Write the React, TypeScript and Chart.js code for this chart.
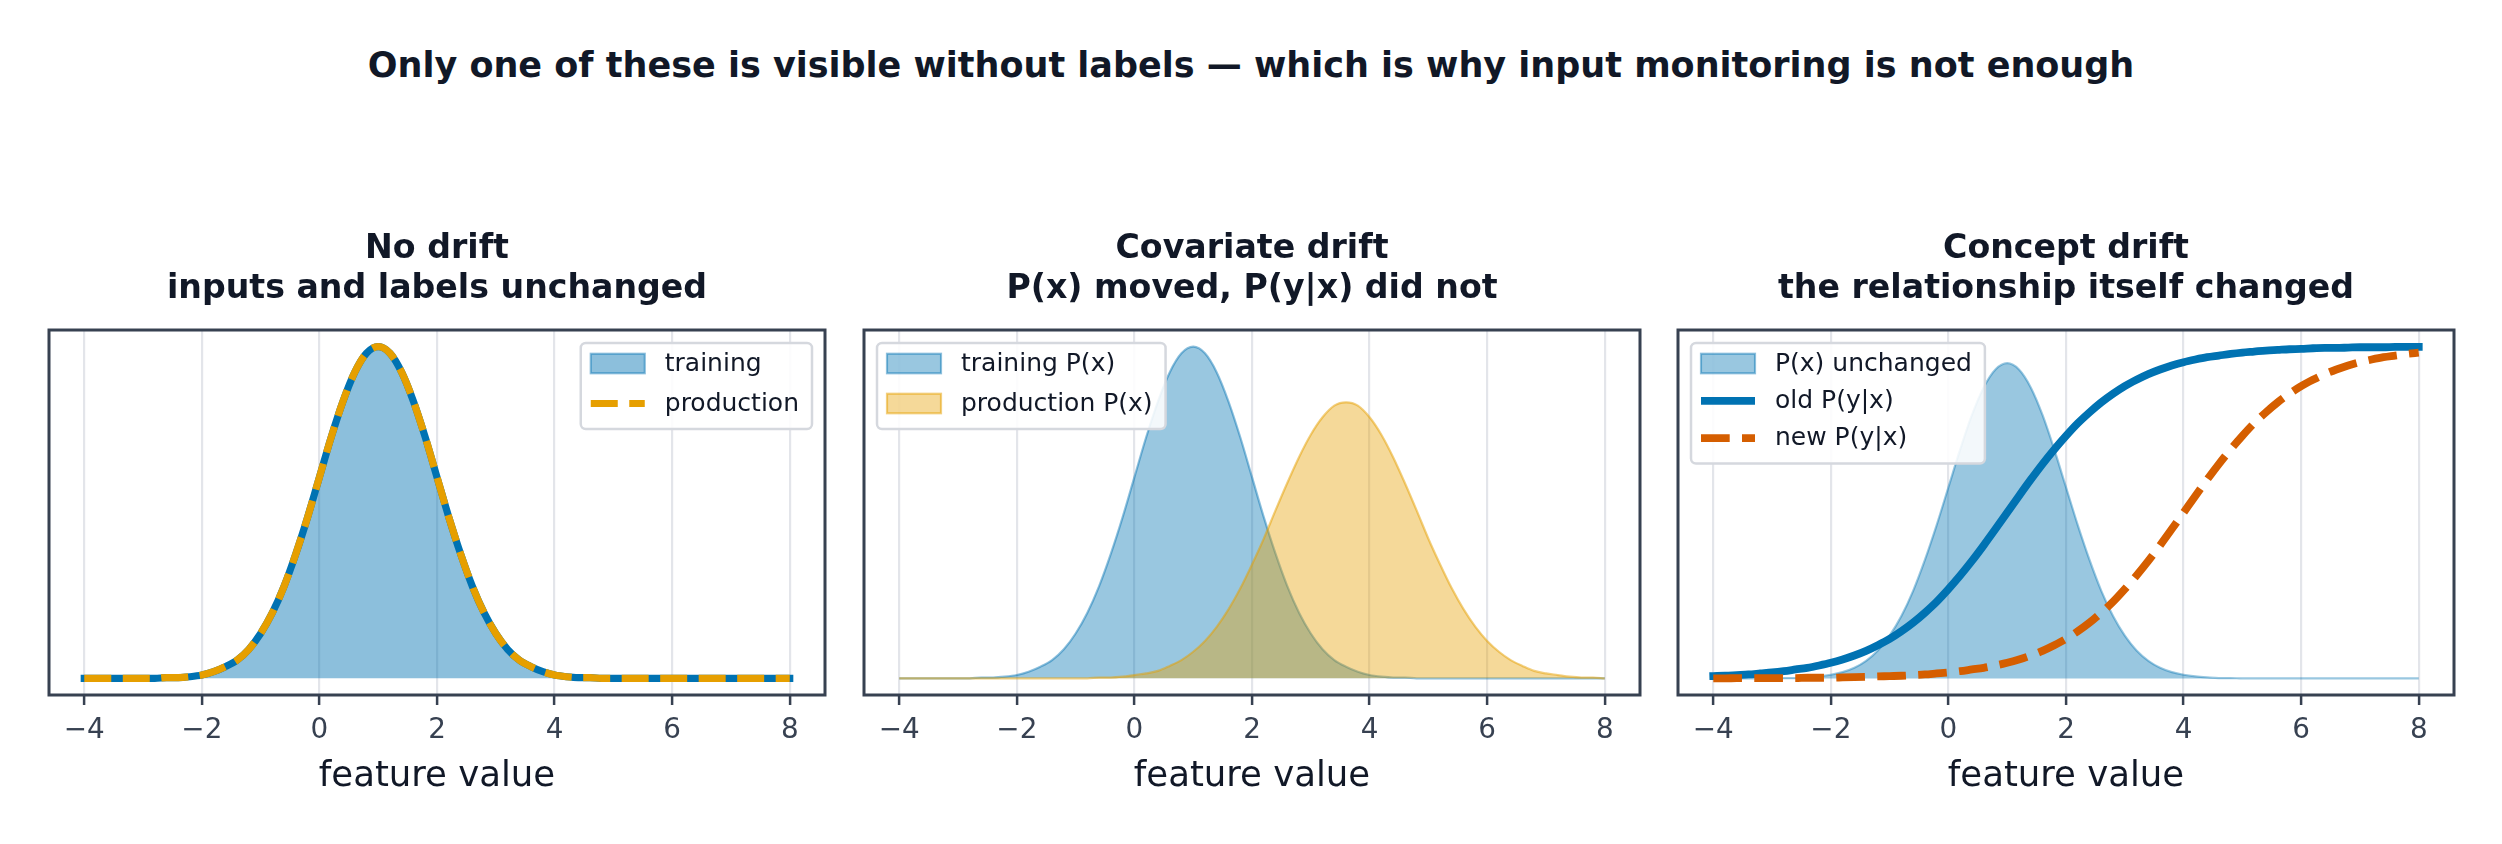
import { useEffect, useRef } from 'react';
import { Chart, registerables } from 'chart.js';

Chart.register(...registerables);

const FONT = "'DejaVu Sans', sans-serif";
const INK = '#111827';
const AXIS = '#374151';

const suptitle = 'Only one of these is visible without labels — which is why input monitoring is not enough';

// sample positions along the feature axis (shared by every curve)
const featureX = [
  -4, -3.8, -3.6, -3.4, -3.2, -3, -2.8, -2.6, -2.4, -2.2,
  -2, -1.8, -1.6, -1.4, -1.2, -1, -0.8, -0.6, -0.4, -0.2,
  0, 0.2, 0.4, 0.6, 0.8, 1, 1.2, 1.4, 1.6, 1.8,
  2, 2.2, 2.4, 2.6, 2.8, 3, 3.2, 3.4, 3.6, 3.8,
  4, 4.2, 4.4, 4.6, 4.8, 5, 5.2, 5.4, 5.6, 5.8,
  6, 6.2, 6.4, 6.6, 6.8, 7, 7.2, 7.4, 7.6, 7.8, 8,
];

const xTicks = [-4, -2, 0, 2, 4, 6, 8];

// training density P(x) (panels 1 and 2)
const trainingPx = [
  0, 0, 0, 0, 0, 0, 0, 0.001, 0.001, 0.002,
  0.004, 0.008, 0.014, 0.022, 0.035, 0.054, 0.079, 0.111, 0.15, 0.194,
  0.242, 0.29, 0.333, 0.368, 0.391, 0.399, 0.391, 0.368, 0.333, 0.29,
  0.242, 0.194, 0.15, 0.111, 0.079, 0.054, 0.035, 0.022, 0.014, 0.008,
  0.004, 0.002, 0.001, 0.001, 0, 0, 0, 0, 0, 0,
  0, 0, 0, 0, 0, 0, 0, 0, 0, 0, 0,
];

// no drift: production lies exactly on top of training
const productionSame = trainingPx;

// covariate drift: production density shifted right and wider
const productionShifted = [
  0, 0, 0, 0, 0, 0, 0, 0, 0, 0,
  0, 0, 0, 0, 0, 0, 0, 0.001, 0.001, 0.002,
  0.004, 0.006, 0.009, 0.015, 0.022, 0.032, 0.045, 0.062, 0.083, 0.108,
  0.137, 0.168, 0.202, 0.235, 0.266, 0.293, 0.314, 0.328, 0.332, 0.328,
  0.314, 0.293, 0.266, 0.235, 0.202, 0.168, 0.137, 0.108, 0.083, 0.062,
  0.045, 0.032, 0.022, 0.015, 0.009, 0.006, 0.004, 0.002, 0.001, 0.001, 0,
];

// concept drift: P(x) drawn on the probability scale
const unchangedPx = [
  0, 0, 0, 0, 0, 0, 0.001, 0.001, 0.003, 0.006,
  0.011, 0.019, 0.032, 0.053, 0.084, 0.129, 0.188, 0.264, 0.357, 0.462,
  0.576, 0.69, 0.794, 0.877, 0.931, 0.95, 0.931, 0.877, 0.794, 0.69,
  0.576, 0.462, 0.357, 0.264, 0.188, 0.129, 0.084, 0.053, 0.032, 0.019,
  0.011, 0.006, 0.003, 0.001, 0.001, 0, 0, 0, 0, 0,
  0, 0, 0, 0, 0, 0, 0, 0, 0, 0, 0,
];

const oldPyx = [
  0.007, 0.008, 0.01, 0.012, 0.015, 0.018, 0.022, 0.027, 0.032, 0.039,
  0.047, 0.057, 0.069, 0.083, 0.1, 0.119, 0.142, 0.168, 0.198, 0.231,
  0.269, 0.31, 0.354, 0.401, 0.45, 0.5, 0.55, 0.599, 0.646, 0.69,
  0.731, 0.769, 0.802, 0.832, 0.858, 0.881, 0.9, 0.917, 0.931, 0.943,
  0.953, 0.961, 0.968, 0.973, 0.978, 0.982, 0.985, 0.988, 0.99, 0.992,
  0.993, 0.995, 0.996, 0.996, 0.997, 0.998, 0.998, 0.998, 0.999, 0.999, 0.999,
];

const newPyx = [
  0, 0, 0.001, 0.001, 0.001, 0.001, 0.001, 0.001, 0.002, 0.002,
  0.002, 0.003, 0.004, 0.005, 0.006, 0.007, 0.008, 0.01, 0.012, 0.015,
  0.018, 0.022, 0.027, 0.032, 0.039, 0.047, 0.057, 0.069, 0.083, 0.1,
  0.119, 0.142, 0.168, 0.198, 0.231, 0.269, 0.31, 0.354, 0.401, 0.45,
  0.5, 0.55, 0.599, 0.646, 0.69, 0.731, 0.769, 0.802, 0.832, 0.858,
  0.881, 0.9, 0.917, 0.931, 0.943, 0.953, 0.961, 0.968, 0.973, 0.978, 0.982,
];

const pts = (ys: number[]) => featureX.map((x, i) => ({ x, y: ys[i] }));

const BLUE = '#0072B2';
const ORANGE = '#E69F00';
const VERMILION = '#D55E00';

type LegendItem = {
  label: string;
  kind: 'patch' | 'line';
  color: string;
  edge?: string;
  width?: number;
  dash?: number[];
};

// axes frame + matplotlib-style legend box drawn inside the plot area
const frameLegend = {
  id: 'frameLegend',
  afterDatasetsDraw(chart: any, _args: any, opts: any) {
    const { ctx, chartArea: a } = chart;
    ctx.save();
    ctx.strokeStyle = AXIS;
    ctx.lineWidth = 3;
    ctx.strokeRect(a.left, a.top, a.right - a.left, a.bottom - a.top);

    const items: LegendItem[] = opts.items || [];
    if (items.length) {
      ctx.font = `25px ${FONT}`;
      const textW = Math.max(...items.map((it) => ctx.measureText(it.label).width));
      const w = 10 + 74 + textW + 13;
      const h = 20.5 + (items.length - 1) * opts.rowGap + 25.5;
      const x0 = opts.side === 'right' ? a.right - 13 - w : a.left + 13;
      const y0 = a.top + 13;
      ctx.beginPath();
      ctx.roundRect(x0, y0, w, h, 5);
      ctx.fillStyle = 'rgba(255,255,255,0.88)';
      ctx.fill();
      ctx.lineWidth = 2.5;
      ctx.strokeStyle = '#d5d8de';
      ctx.stroke();

      items.forEach((it, i) => {
        const cy = y0 + 20.5 + i * opts.rowGap;
        const px = x0 + 10;
        if (it.kind === 'patch') {
          ctx.fillStyle = it.color;
          ctx.fillRect(px, cy - 9.75, 54, 19.5);
          ctx.strokeStyle = it.edge || it.color;
          ctx.lineWidth = 2.2;
          ctx.strokeRect(px, cy - 9.75, 54, 19.5);
        } else {
          ctx.beginPath();
          ctx.setLineDash(it.dash || []);
          ctx.lineCap = 'butt';
          ctx.strokeStyle = it.color;
          ctx.lineWidth = it.width || 7;
          ctx.moveTo(px, cy);
          ctx.lineTo(px + 54, cy);
          ctx.stroke();
          ctx.setLineDash([]);
        }
        ctx.fillStyle = INK;
        ctx.textBaseline = 'middle';
        ctx.textAlign = 'left';
        ctx.fillText(it.label, px + 74, cy + 0.5);
      });
    }
    ctx.restore();
  },
};

interface PanelProps {
  left: number;
  title: string[];
  datasets: any[];
  yMin: number;
  yMax: number;
  legend: { side: 'left' | 'right'; rowGap: number; items: LegendItem[] };
}

function DriftPanel({ left, title, datasets, yMin, yMax, legend }: PanelProps) {
  const canvasRef = useRef<HTMLCanvasElement>(null);

  useEffect(() => {
    if (!canvasRef.current) return;
    const chart = new Chart(canvasRef.current, {
      type: 'line',
      data: { datasets },
      options: {
        responsive: false,
        animation: false,
        devicePixelRatio: 1,
        layout: { padding: { left: 12, right: 12, top: 0, bottom: 44 } },
        elements: {
          point: { radius: 0 },
          line: { cubicInterpolationMode: 'monotone' },
        },
        plugins: {
          legend: { display: false },
          tooltip: { enabled: false },
          title: {
            display: true,
            text: title,
            color: INK,
            font: { family: FONT, size: 33.2, weight: 'bold', lineHeight: 1.205 },
            padding: { top: 29, bottom: 21 },
          },
          frameLegend: legend,
        } as any,
        scales: {
          x: {
            type: 'linear',
            min: -4.6,
            max: 8.6,
            afterBuildTicks: (scale: any) => {
              scale.ticks = xTicks.map((value) => ({ value }));
            },
            afterFit: (scale: any) => {
              scale.height = 105;
            },
            border: { display: false },
            grid: {
              color: '#e3e5ea',
              lineWidth: 2.2,
              tickColor: AXIS,
              tickWidth: 2.5,
              tickLength: 10,
            },
            ticks: {
              color: AXIS,
              font: { family: FONT, size: 27.8 },
              padding: 9,
              maxRotation: 0,
              autoSkip: false,
              callback: (v: any) => (Number(v) < 0 ? '\u2212' + Math.abs(Number(v)) : String(v)),
            },
            title: {
              display: true,
              text: 'feature value',
              color: INK,
              font: { family: FONT, size: 35.5 },
              padding: { top: 0, bottom: 1.5 },
            },
          },
          y: { display: false, min: yMin, max: yMax },
        },
      },
      plugins: [frameLegend as any],
    });
    return () => chart.destroy();
  }, []);

  return (
    <canvas
      ref={canvasRef}
      width={800}
      height={644}
      style={{ position: 'absolute', left: left - 12, top: 200, width: 800, height: 644 }}
    />
  );
}

export default function App() {
  const noDrift = [
    {
      label: 'production',
      data: pts(productionSame),
      borderColor: ORANGE,
      borderWidth: 7.2,
      borderDash: [27, 11.5],
      borderCapStyle: 'butt',
      fill: false,
      order: 1,
    },
    {
      label: 'training',
      data: pts(trainingPx),
      borderColor: BLUE,
      borderWidth: 7.2,
      borderCapStyle: 'square',
      backgroundColor: 'rgba(0,114,178,0.45)',
      fill: 'origin',
      order: 2,
    },
  ];

  const covariate = [
    {
      label: 'production P(x)',
      data: pts(productionShifted),
      borderColor: 'rgba(230,159,0,0.5)',
      borderWidth: 2.2,
      backgroundColor: 'rgba(230,159,0,0.4)',
      fill: 'origin',
      order: 1,
    },
    {
      label: 'training P(x)',
      data: pts(trainingPx),
      borderColor: 'rgba(0,114,178,0.45)',
      borderWidth: 2.2,
      backgroundColor: 'rgba(0,114,178,0.4)',
      fill: 'origin',
      order: 2,
    },
  ];

  const concept = [
    {
      label: 'new P(y|x)',
      data: pts(newPyx),
      borderColor: VERMILION,
      borderWidth: 7.8,
      borderDash: [28.7, 12.3],
      borderCapStyle: 'butt',
      fill: false,
      order: 1,
    },
    {
      label: 'old P(y|x)',
      data: pts(oldPyx),
      borderColor: BLUE,
      borderWidth: 7.8,
      borderCapStyle: 'square',
      fill: false,
      order: 2,
    },
    {
      label: 'P(x) unchanged',
      data: pts(unchangedPx),
      borderColor: 'rgba(0,114,178,0.4)',
      borderWidth: 2.2,
      backgroundColor: 'rgba(0,114,178,0.4)',
      fill: 'origin',
      order: 3,
    },
  ];

  return (
    <div style={{ position: 'absolute', left: 0, top: 0, width: 2502, height: 844, background: '#fff', overflow: 'hidden' }}>
      <div
        style={{
          position: 'absolute',
          left: 0,
          top: 45,
          width: 2502,
          textAlign: 'center',
          fontFamily: FONT,
          fontWeight: 'bold',
          fontSize: 35,
          lineHeight: '40px',
          color: INK,
          whiteSpace: 'nowrap',
        }}
      >
        {suptitle}
      </div>
      <DriftPanel
        left={49}
        title={['No drift', 'inputs and labels unchanged']}
        datasets={noDrift}
        yMin={-0.02}
        yMax={0.419}
        legend={{
          side: 'right',
          rowGap: 40,
          items: [
            { label: 'training', kind: 'patch', color: 'rgba(0,114,178,0.45)', edge: 'rgba(0,114,178,0.45)' },
            { label: 'production', kind: 'line', color: ORANGE, width: 7.2, dash: [27, 11.5] },
          ],
        }}
      />
      <DriftPanel
        left={864}
        title={['Covariate drift', 'P(x) moved, P(y|x) did not']}
        datasets={covariate}
        yMin={-0.02}
        yMax={0.419}
        legend={{
          side: 'left',
          rowGap: 40,
          items: [
            { label: 'training P(x)', kind: 'patch', color: 'rgba(0,114,178,0.4)', edge: 'rgba(0,114,178,0.45)' },
            { label: 'production P(x)', kind: 'patch', color: 'rgba(230,159,0,0.4)', edge: 'rgba(230,159,0,0.5)' },
          ],
        }}
      />
      <DriftPanel
        left={1678}
        title={['Concept drift', 'the relationship itself changed']}
        datasets={concept}
        yMin={-0.05}
        yMax={1.05}
        legend={{
          side: 'left',
          rowGap: 37.3,
          items: [
            { label: 'P(x) unchanged', kind: 'patch', color: 'rgba(0,114,178,0.4)', edge: 'rgba(0,114,178,0.45)' },
            { label: 'old P(y|x)', kind: 'line', color: BLUE, width: 7.8 },
            { label: 'new P(y|x)', kind: 'line', color: VERMILION, width: 7.8, dash: [28.7, 12.3] },
          ],
        }}
      />
    </div>
  );
}
